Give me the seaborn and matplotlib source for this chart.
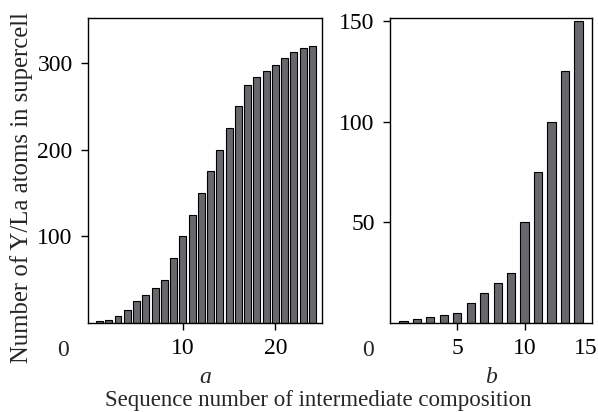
import numpy as np
import pandas as pd
import matplotlib
matplotlib.use("Agg")
import matplotlib.pyplot as plt
import matplotlib.transforms as mtransforms
import seaborn as sns

# === data ===
seq_a = list(range(1, 25))
atoms_a = [2, 4, 8, 15, 25, 32, 40, 50, 75, 100, 125, 150, 175, 200,
           225, 250, 275, 284, 291, 298, 306, 313, 317, 320]

seq_b = list(range(1, 15))
atoms_b = [1, 2, 3, 4, 5, 10, 15, 20, 25, 50, 75, 100, 125, 150]

ticks_a = [10, 20]
yticks_a = [100, 200, 300]
ticks_b = [5, 10, 15]
yticks_b = [50, 100, 150]

BAR_COLOR = "#68686c"
FS = 17

# === style ===
sns.set_theme(style="ticks")
plt.rcParams["font.family"] = ["Liberation Serif", "DejaVu Serif"]
plt.rcParams["xtick.major.size"] = 5
plt.rcParams["ytick.major.size"] = 5
plt.rcParams["xtick.major.width"] = 1
plt.rcParams["ytick.major.width"] = 1
plt.rcParams["axes.linewidth"] = 1
plt.rcParams["axes.edgecolor"] = "black"

df_a = pd.DataFrame({"seq": seq_a, "atoms": atoms_a})
df_b = pd.DataFrame({"seq": seq_b, "atoms": atoms_b})

fig = plt.figure(figsize=(5.98, 4.12), dpi=100)
ax_a = fig.add_axes([0.147, 0.216, 0.391, 0.740])
ax_b = fig.add_axes([0.652, 0.216, 0.338, 0.740])

sns.barplot(data=df_a, x="seq", y="atoms", native_scale=True, ax=ax_a,
            color=BAR_COLOR, edgecolor="black", linewidth=0.8,
            width=0.75, saturation=1)
sns.barplot(data=df_b, x="seq", y="atoms", native_scale=True, ax=ax_b,
            color=BAR_COLOR, edgecolor="black", linewidth=0.8,
            width=0.62, saturation=1)

ax_a.set_xlim(-0.25, 25)
ax_a.set_ylim(0, 352)
ax_a.set_xticks(ticks_a)
ax_a.set_yticks(yticks_a)

ax_b.set_xlim(0, 15)
ax_b.set_ylim(0, 151.5)
ax_b.set_xticks(ticks_b)
ax_b.set_yticks(yticks_b)

for ax, lab in [(ax_a, "a"), (ax_b, "b")]:
    ax.set_xlabel("")
    ax.set_ylabel("")
    ax.tick_params(labelsize=FS, colors="black", pad=6)
    for s in ax.spines.values():
        s.set_visible(True)
        s.set_color("black")
    # origin label at lower-left corner
    ax.text(-0.08, -0.09, "0", transform=ax.transAxes, ha="right",
            va="center", fontsize=FS)
    ax.text(0.5, -0.18, lab, transform=ax.transAxes, ha="center",
            va="center", fontsize=FS, style="italic")

# last tick label of panel b sits just inside the right edge
last = ax_b.get_xticklabels()[-1]
last.set_transform(last.get_transform() +
                   mtransforms.ScaledTranslation(-6 / 100, 0, fig.dpi_scale_trans))
ax_b.xaxis.get_major_ticks()[-1].tick1line.set_visible(False)

fig.text(0.532, 0.027, "Sequence number of intermediate composition",
         ha="center", va="center", fontsize=16.5)
fig.text(0.036, 0.546, "Number of Y/La atoms in supercell",
         ha="center", va="center", rotation=90, fontsize=17.8)

fig.savefig("out.png", dpi=100)
